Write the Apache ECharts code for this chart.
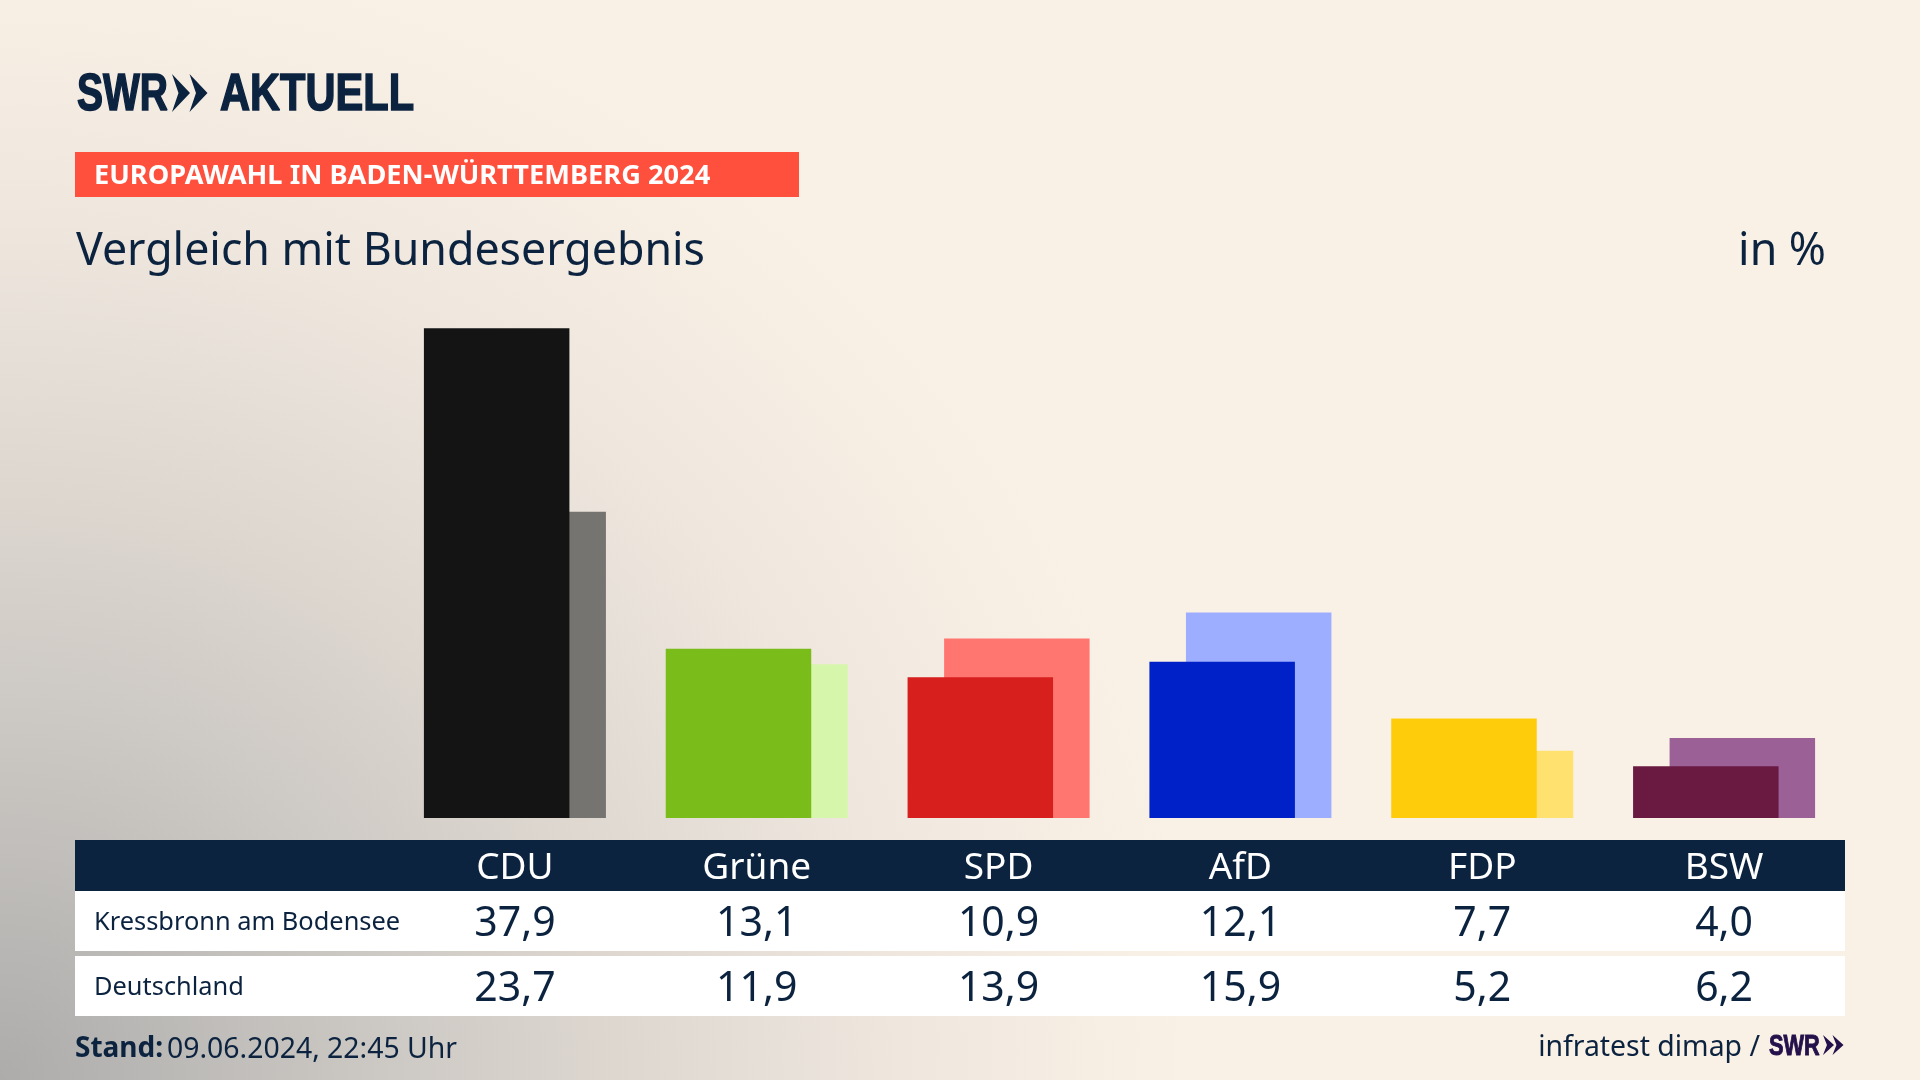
<!DOCTYPE html>
<html lang="de">
<head>
<meta charset="utf-8">
<title>Vergleich mit Bundesergebnis</title>
<script src="https://cdn.jsdelivr.net/npm/echarts@6/dist/echarts.min.js"></script>
<style>
html,body{margin:0;padding:0;width:1920px;height:1080px;overflow:hidden;
background:#faf1e6;}
#bg{position:absolute;left:0;top:0;width:1920px;height:1080px;
background:radial-gradient(ellipse 1200px 1150px at 0 100%, #adacab 0%, #c6c3bf 25%, #dcd6cf 50%, #efe7de 75%, #faf1e6 100%);}
#c{position:absolute;left:0;top:0;width:1920px;height:1080px;}
</style>
</head>
<body>
<div id="bg"></div>
<div id="c"></div>
<script>
const categories = ['CDU','Grüne','SPD','AfD','FDP','BSW'];
const localValues = [37.9,13.1,10.9,12.1,7.7,4.0];
const nationalValues = [23.7,11.9,13.9,15.9,5.2,6.2];
const localName = 'Kressbronn am Bodensee';
const nationalName = 'Deutschland';
const localColors = ['#141414','#7abc1a','#d71f1d','#0021c8','#ffcc0b','#6a1a41'];
const nationalColors = ['#757471','#d6f6ab','#ff7671','#9dadff','#ffe16f','#9b6197'];

const ink = '#0c2340';
const purple = '#24104a';
const font = '"Noto Sans", sans-serif';
const logoFont = '"Liberation Sans", sans-serif';
const de = v => v.toFixed(1).replace('.', ',');

function chevrons(x, y, h, w, step, fill) {
  return [0, 1].map(k => {
    const a = x + k * step;
    return {type:'polygon', silent:true, shape:{points:[
      [a, y], [a + w, y + h / 2], [a, y + h], [a + w * 0.36, y + h / 2]
    ]}, style:{fill}};
  });
}
function txt(text, x, y, size, opts) {
  return {type:'text', silent:true, x, y, scaleX:(opts && opts.sx) || 1,
    style:Object.assign({text, font:`${(opts && opts.weight) || 400} ${size}px ${(opts && opts.family) || font}`,
      fill:ink, verticalAlign:'middle', align:'left'}, (opts && opts.style) || {})};
}
function rect(x, y, w, h, fill) {
  return {type:'rect', silent:true, shape:{x, y, width:w, height:h}, style:{fill}};
}
function valueAxis(data, offset, size, color) {
  return {type:'category', data, position:'bottom', offset, z:5,
    axisLine:{show:false}, axisTick:{show:false}, splitLine:{show:false},
    axisLabel:{interval:0, margin:0, verticalAlign:'middle', color, fontSize:size, fontFamily:font, fontWeight:400}};
}

const chart = echarts.init(document.getElementById('c'), null, {width:1920, height:1080});
chart.setOption({
  animation:false,
  backgroundColor:'transparent',
  grid:{left:394, width:1451, top:301.2, height:516.8},
  xAxis:[
    {type:'category', data:categories, position:'bottom', show:false},
    valueAxis(categories, 50.5, 37, '#ffffff'),
    valueAxis(localValues.map(de), 106, 41, ink),
    valueAxis(nationalValues.map(de), 171.5, 41, ink)
  ],
  yAxis:{type:'value', min:0, max:40, show:false},
  series:[
    {name:localName, type:'bar', xAxisIndex:0, z:3, barWidth:145.5, barGap:'-74.9%',
     data:localValues.map((v,i)=>({value:v, itemStyle:{color:localColors[i]}}))},
    {name:nationalName, type:'bar', xAxisIndex:0, z:2, barWidth:145.5,
     data:nationalValues.map((v,i)=>({value:v, itemStyle:{color:nationalColors[i]}}))}
  ],
  graphic:[
    rect(75, 152, 724, 45, '#ff503d'),
    rect(75, 840, 1770, 51, ink),
    rect(75, 891, 1770, 60, '#ffffff'),
    rect(75, 956, 1770, 60, '#ffffff'),
    txt('SWR', 77, 96, 52, {weight:700, family:logoFont, sx:0.75, style:{stroke:ink, lineWidth:1.6}}),
    ...chevrons(172, 74, 38, 18, 17.5, ink),
    txt('AKTUELL', 220, 96, 52, {weight:700, family:logoFont, sx:0.8, style:{stroke:ink, lineWidth:1.6}}),
    txt('EUROPAWAHL IN BADEN-WÜRTTEMBERG 2024', 94, 176, 27, {weight:700, style:{fill:'#ffffff'}, sx:1.008}),
    txt('Vergleich mit Bundesergebnis', 76, 252, 44.7),
    txt('in %', 1826, 252, 44.7, {style:{align:'right'}}),
    txt(localName, 94, 923, 25.4),
    txt(nationalName, 94, 988, 25.4),
    txt('Stand:', 75, 1049.5, 28, {weight:700}),
    txt('09.06.2024, 22:45 Uhr', 167, 1049.5, 28.4),
    txt('infratest dimap /', 1760, 1048, 28.4, {style:{align:'right'}}),
    txt('SWR', 1769, 1046.5, 29, {weight:700, family:logoFont, sx:0.75, style:{fill:purple, stroke:purple, lineWidth:1}}),
    ...chevrons(1823, 1035, 20, 11, 9.5, purple)
  ]
});
</script>
</body>
</html>
